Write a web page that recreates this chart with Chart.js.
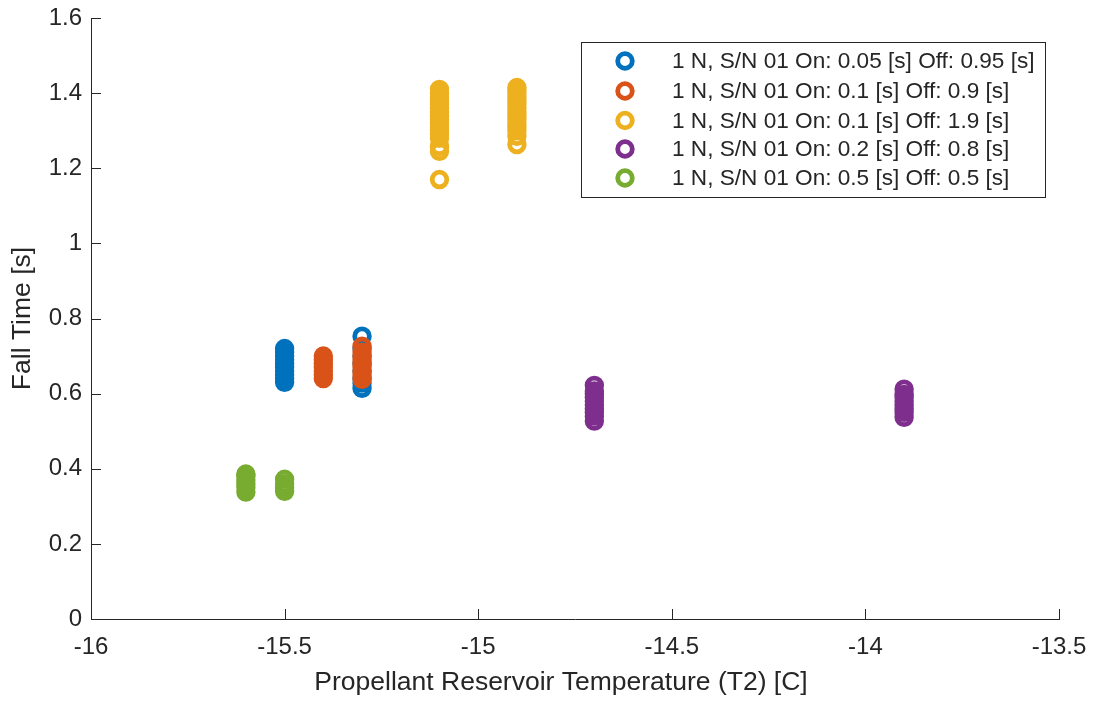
<!DOCTYPE html>
<html>
<head>
<meta charset="utf-8">
<script src="https://cdn.jsdelivr.net/npm/chart.js@4.4.1/dist/chart.umd.min.js"></script>
<style>
  html, body { margin: 0; padding: 0; background: #ffffff; }
  #wrap { width: 1094px; height: 703px; position: relative; }
</style>
</head>
<body>
<div id="wrap"><canvas id="c" width="1094" height="703"></canvas></div>
<script>
// ---- Data ----
const seriesLabels = [
  '1 N, S/N 01 On: 0.05 [s] Off: 0.95 [s]',
  '1 N, S/N 01 On: 0.1 [s] Off: 0.9 [s]',
  '1 N, S/N 01 On: 0.1 [s] Off: 1.9 [s]',
  '1 N, S/N 01 On: 0.2 [s] Off: 0.8 [s]',
  '1 N, S/N 01 On: 0.5 [s] Off: 0.5 [s]'
];
const seriesColors = ['#0072BD', '#D95319', '#EDB120', '#7E2F8E', '#77AC30'];

// Series 1 (blue): temperatures and fall times
const blueTempA = -15.5;
const blueFallA = [0.63, 0.64, 0.65, 0.66, 0.67, 0.68, 0.69, 0.70, 0.71, 0.72];
const blueTempB = -15.3;
const blueFallB = [0.614, 0.628, 0.64, 0.66, 0.68, 0.70, 0.72, 0.753];

// Series 2 (orange)
const orangeTempA = -15.4;
const orangeFallA = [0.64, 0.65, 0.66, 0.67, 0.68, 0.69, 0.70];
const orangeTempB = -15.3;
const orangeFallB = [0.638, 0.65, 0.66, 0.67, 0.68, 0.69, 0.70, 0.71, 0.726];

// Series 3 (yellow)
const yellowTempA = -15.1;
const yellowFallA = [1.17, 1.245, 1.258, 1.28, 1.29, 1.30, 1.31, 1.32, 1.33, 1.34, 1.35, 1.36, 1.37, 1.38, 1.39, 1.40, 1.41];
const yellowTempB = -14.9;
const yellowFallB = [1.263, 1.285, 1.30, 1.31, 1.32, 1.33, 1.34, 1.35, 1.36, 1.37, 1.38, 1.39, 1.40, 1.408, 1.415];

// Series 4 (purple)
const purpleTempA = -14.7;
const purpleFallA = [0.527, 0.54, 0.55, 0.56, 0.57, 0.58, 0.59, 0.60, 0.607, 0.622];
const purpleTempB = -13.9;
const purpleFallB = [0.537, 0.55, 0.56, 0.57, 0.58, 0.59, 0.598, 0.612];

// Series 5 (green)
const greenTempA = -15.6;
const greenFallA = [0.338, 0.35, 0.36, 0.37, 0.38, 0.386];
const greenTempB = -15.5;
const greenFallB = [0.34, 0.35, 0.36, 0.372];

// Axis ticks
const xTickLabels = ['-16', '-15.5', '-15', '-14.5', '-14', '-13.5'];
const yTickLabels = ['0', '0.2', '0.4', '0.6', '0.8', '1', '1.2', '1.4', '1.6'];
const xTitle = 'Propellant Reservoir Temperature (T2) [C]';
const yTitle = 'Fall Time [s]';

// ---- Build datasets ----
function pts(t, arr) { return arr.map(v => ({ x: t, y: v })); }
const seriesPoints = [
  pts(blueTempA, blueFallA).concat(pts(blueTempB, blueFallB)),
  pts(orangeTempA, orangeFallA).concat(pts(orangeTempB, orangeFallB)),
  pts(yellowTempA, yellowFallA).concat(pts(yellowTempB, yellowFallB)),
  pts(purpleTempA, purpleFallA).concat(pts(purpleTempB, purpleFallB)),
  pts(greenTempA, greenFallA).concat(pts(greenTempB, greenFallB))
];

const AXIS = '#262626';
const FONT = "'Liberation Sans', Arial, Helvetica, sans-serif";
const MR = 7.3, MBW = 4.8;

const datasets = seriesPoints.map((p, i) => ({
  label: seriesLabels[i],
  data: p,
  showLine: false,
  borderColor: seriesColors[i],
  backgroundColor: 'rgba(0,0,0,0)',
  pointRadius: MR,
  pointBorderWidth: MBW,
  pointHoverRadius: MR,
  order: seriesLabels.length - i
}));

// Inward tick marks (MATLAB style) and the x-axis label
const inwardTicks = {
  id: 'inwardTicks',
  afterDraw(chart) {
    const ctx = chart.ctx;
    const xs = chart.scales.x, ys = chart.scales.y;
    const ca = chart.chartArea;
    const L = 10;
    ctx.save();
    ctx.strokeStyle = AXIS;
    ctx.lineWidth = 1;
    ctx.beginPath();
    xs.ticks.forEach(t => {
      const px = Math.round(xs.getPixelForValue(t.value)) + 0.5;
      ctx.moveTo(px, ca.bottom);
      ctx.lineTo(px, ca.bottom - L);
    });
    ys.ticks.forEach(t => {
      const py = Math.round(ys.getPixelForValue(t.value)) + 0.5;
      ctx.moveTo(ca.left, py);
      ctx.lineTo(ca.left + L, py);
    });
    ctx.stroke();
    // x-axis title (slightly left of centre, as in the reference)
    ctx.fillStyle = AXIS;
    ctx.font = '26.5px ' + FONT;
    ctx.textAlign = 'center';
    ctx.textBaseline = 'middle';
    ctx.fillText(xTitle, (ca.left + ca.right) / 2 - 14, 683);
    ctx.restore();
  }
};

// Boxed legend inside the plot (MATLAB style)
const boxLegend = {
  id: 'boxLegend',
  afterDatasetsDraw(chart) {
    const ctx = chart.ctx;
    const bx = 581.5, by = 42.5, bw = 464, bh = 155;
    ctx.save();
    ctx.fillStyle = '#ffffff';
    ctx.fillRect(bx, by, bw, bh);
    ctx.strokeStyle = AXIS;
    ctx.lineWidth = 1;
    ctx.strokeRect(bx, by, bw, bh);
    ctx.font = '22.6px ' + FONT;
    ctx.textBaseline = 'middle';
    ctx.textAlign = 'left';
    const rows = [61, 91, 120.5, 149, 178];
    chart.data.datasets.forEach((ds, i) => {
      const cy = rows[i];
      ctx.beginPath();
      ctx.arc(625, cy, MR, 0, Math.PI * 2);
      ctx.strokeStyle = ds.borderColor;
      ctx.lineWidth = MBW;
      ctx.stroke();
      ctx.fillStyle = AXIS;
      ctx.fillText(ds.label, 672, cy + 1);
    });
    ctx.restore();
  }
};

new Chart(document.getElementById('c'), {
  type: 'scatter',
  data: { datasets },
  options: {
    responsive: false,
    animation: false,
    events: [],
    layout: { padding: { left: 0, top: 18, right: 35, bottom: 0 } },
    plugins: {
      legend: { display: false },
      tooltip: { enabled: false }
    },
    scales: {
      x: {
        type: 'linear',
        position: 'bottom',
        min: -16, max: -13.5,
        afterFit(s) { s.height = 84; s.paddingLeft = 0; s.paddingRight = 0; },
        afterBuildTicks(s) { s.ticks = xTickLabels.map(l => ({ value: parseFloat(l) })); },
        ticks: {
          callback: (v, i) => xTickLabels[i],
          font: { size: 24, family: FONT },
          color: AXIS,
          padding: 14,
          maxRotation: 0,
          autoSkip: false
        },
        grid: { display: false, drawTicks: false },
        border: { display: true, color: AXIS, width: 1 },
        title: { display: false }
      },
      y: {
        type: 'linear',
        min: 0, max: 1.6,
        afterFit(s) { s.width = 91; s.paddingTop = 0; s.paddingBottom = 0; },
        afterBuildTicks(s) { s.ticks = yTickLabels.map(l => ({ value: parseFloat(l) })); },
        ticks: {
          callback: (v, i) => yTickLabels[i],
          font: { size: 24, family: FONT },
          color: AXIS,
          padding: 9,
          autoSkip: false
        },
        grid: { display: false, drawTicks: false },
        border: { display: true, color: AXIS, width: 1 },
        title: {
          display: true,
          text: yTitle,
          font: { size: 26.5, family: FONT },
          color: AXIS,
          padding: { top: 7, bottom: 0 }
        }
      }
    }
  },
  plugins: [inwardTicks, boxLegend]
});
</script>
</body>
</html>
